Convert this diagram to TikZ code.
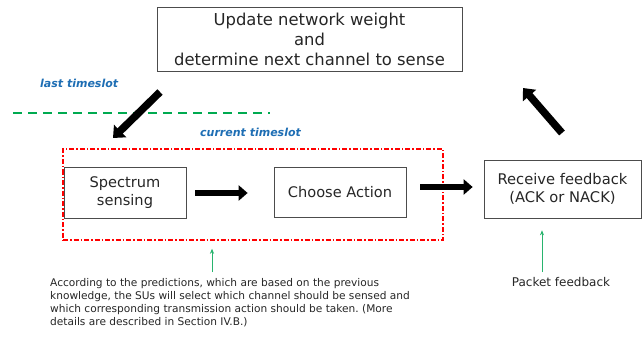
\documentclass[tikz,border=0pt]{standalone}
\usepackage{fontspec}
\setmainfont{DejaVu Sans}
\usetikzlibrary{arrows.meta}
\frenchspacing
\definecolor{tsblue}{RGB}{30,110,180}
\definecolor{tsgreen}{RGB}{0,170,80}
\definecolor{fbgreen}{RGB}{40,180,110}
\tikzset{
  box/.style={draw=black!70, line width=0.7pt, inner sep=0pt, align=center, text=black!85},
  bigarrow/.style={line width=6.5pt, -{Triangle[length=9pt,width=15pt]}},
  diagarrow/.style={line width=7.5pt, -{Triangle[length=10pt,width=17pt]}},
  thinarrow/.style={draw=fbgreen, line width=0.6pt, -{Stealth[length=5pt,width=4pt]}},
  tslabel/.style={text=tsblue, font=\fontsize{11}{13}\selectfont\bfseries\itshape},
}
\begin{document}
\begin{tikzpicture}[x=1pt,y=-1pt]
\useasboundingbox[fill=white] (0,0) rectangle (642,342);
\node[box, minimum width=305pt, minimum height=64pt, font=\fontsize{16.4}{20}\selectfont] (top) at (309.5,39)
  {Update network weight\\and\\determine next channel to sense};
\node[box, minimum width=122pt, minimum height=51pt, font=\fontsize{14.6}{18}\selectfont] (spec) at (125,192.5) {Spectrum\\sensing};
\node[box, minimum width=132pt, minimum height=50pt, font=\fontsize{14.6}{18}\selectfont] (choose) at (340,192) {Choose Action};
\node[box, minimum width=157pt, minimum height=58pt, font=\fontsize{14.7}{18}\selectfont] (recv) at (562.5,189) {Receive feedback\\(ACK or NACK)};
\node[draw=red, line width=1.5pt, dash pattern=on 5pt off 2pt on 1.5pt off 2pt, minimum width=380pt, minimum height=91pt, inner sep=0pt] (grp) at (253,194.5) {};
\coordinate (dl) at (13,113);
\coordinate (dr) at (270,113);
\draw[tsgreen, line width=2.2pt, dash pattern=on 9pt off 6pt] (dl) -- (dr);
\node[tslabel, anchor=west, inner sep=0pt] (last) at (40,83) {last timeslot};
\node[tslabel, anchor=west, inner sep=0pt] (cur) at (200,132) {current timeslot};
\coordinate (a1s) at (160,92);
\coordinate (a1e) at (113,138);
\draw[diagarrow] (a1s) -- (a1e);
\coordinate (a2s) at (562,133);
\coordinate (a2e) at (523,88);
\draw[diagarrow] (a2s) -- (a2e);
\coordinate (a4s) at (195,193);
\draw[bigarrow] (a4s) -- ([xshift=-26pt]a4s -| choose.west);
\coordinate (a3s) at (420,187);
\draw[bigarrow] (a3s) -- ([xshift=-11pt]a3s -| recv.west);
\node[anchor=north west, align=left, inner sep=0pt, font=\fontsize{10.6}{13}\selectfont, text=black!85] (para) at (50,278)
  {According to the predictions, which are based on the previous\\
   knowledge, the SUs will select which channel should be sensed and\\
   which corresponding transmission action should be taken. (More\\
   details are described in Section IV.B.)};
\coordinate (g1) at (212,272);
\draw[thinarrow] (g1) -- ([yshift=-8pt]grp.south -| g1);
\node[font=\fontsize{12}{14}\selectfont, text=black!85] (pf) at (561,282) {Packet feedback};
\coordinate (g2) at (542,272);
\draw[thinarrow] (g2) -- ([yshift=-12pt]recv.south -| g2);
\end{tikzpicture}
\end{document}
